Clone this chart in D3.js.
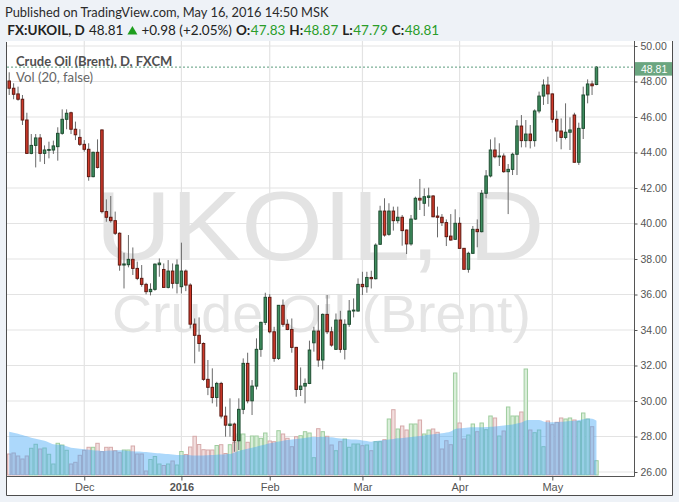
<!DOCTYPE html>
<html><head><meta charset="utf-8">
<script src="https://cdn.jsdelivr.net/npm/d3@7"></script>
<style>
html,body{margin:0;padding:0;background:#eef2f7;}
svg{display:block;}
</style></head>
<body>
<svg id="chart" width="679" height="502"></svg>
<script>
// ---------- data (daily bars, FXCM UKOIL) ----------
const opens=[48.03,47.62,47.30,47.00,45.83,43.95,44.40,44.82,43.95,44.12,
44.14,44.33,45.08,45.87,46.24,45.31,44.85,44.46,44.18,42.64,
44.01,45.27,40.67,40.35,40.16,39.45,37.66,37.68,37.98,37.47,
36.91,36.57,36.16,36.29,37.68,37.41,36.40,37.32,36.63,36.44,
37.32,36.53,34.33,33.70,33.24,31.22,30.77,30.20,30.99,29.15,
28.62,28.70,27.76,29.53,32.12,30.01,30.84,32.91,34.43,35.84,
33.90,32.40,35.39,34.32,34.03,33.02,30.65,30.84,30.99,33.28,
33.94,32.31,34.88,33.90,32.91,34.56,32.91,34.32,35.07,35.07,
36.57,36.44,36.96,36.89,38.83,40.70,39.39,40.70,40.16,40.35,
39.63,38.85,40.25,41.42,41.14,41.47,41.55,40.42,40.35,40.05,
39.29,39.11,40.01,38.60,37.42,38.32,39.67,39.54,41.70,42.68,
44.14,43.76,43.80,42.92,43.05,43.90,45.49,44.67,45.04,44.67,
46.34,47.18,47.80,47.30,45.87,45.21,44.85,45.14,46.11,43.45,
45.36,47.24,47.86,47.83];
const highs=[48.52,47.90,47.71,47.24,46.24,45.04,45.04,45.04,44.40,44.61,
44.67,45.42,46.43,46.43,46.30,45.74,45.31,44.70,44.52,44.05,
44.74,45.30,41.36,41.55,40.67,39.50,38.35,39.35,38.65,37.85,
37.66,36.66,36.63,37.75,38.03,37.75,37.94,37.75,37.98,38.92,
37.41,36.63,34.65,34.71,33.30,32.31,31.84,31.08,31.08,29.68,
30.15,28.78,30.15,32.40,32.72,31.18,33.53,34.47,36.10,36.02,
34.18,35.40,35.72,34.60,34.65,33.05,31.89,31.27,33.40,34.18,
35.40,34.93,35.97,34.18,34.93,35.08,34.60,35.69,35.78,36.91,
37.28,37.28,37.34,38.88,41.00,41.42,41.14,40.95,40.95,40.48,
39.66,40.48,41.51,42.51,41.98,42.02,41.60,40.95,40.53,40.23,
40.53,40.80,40.35,38.62,38.41,39.86,40.23,41.89,43.01,44.74,
44.85,44.52,43.95,43.35,43.99,45.83,46.11,45.83,45.55,46.43,
47.43,48.12,48.27,47.32,46.36,45.92,46.77,45.98,46.24,45.68,
47.71,48.12,48.05,48.87];
const lows=[47.24,47.00,46.92,45.55,43.92,43.90,43.16,43.48,43.35,43.67,
43.92,43.54,45.00,45.31,45.04,44.70,44.37,44.05,42.41,42.60,
43.10,40.57,40.10,40.05,39.35,37.34,36.34,37.53,37.10,36.81,
36.44,36.01,35.95,36.21,37.00,36.40,36.34,36.34,36.06,36.06,
36.19,34.09,32.12,32.78,31.14,30.33,29.87,29.68,29.02,27.99,
27.99,27.14,27.24,29.26,29.87,29.21,30.65,32.49,34.28,33.81,
32.21,32.31,34.18,33.99,32.72,30.24,30.28,29.87,30.95,32.78,
31.93,31.78,33.77,33.06,32.88,32.72,32.34,34.18,34.71,35.03,
35.97,36.10,36.34,36.85,38.79,39.26,39.31,39.60,40.01,38.75,
38.28,38.75,40.20,40.76,40.42,40.95,40.35,39.22,39.86,38.73,
39.03,39.07,38.60,37.42,37.23,38.28,38.66,39.50,41.42,42.60,
43.67,43.24,42.86,40.53,42.73,42.73,44.29,44.29,44.23,44.33,
46.21,46.68,46.73,45.68,44.61,44.18,44.74,44.14,43.45,43.30,
44.76,46.77,47.24,47.79];
const closes=[47.62,47.28,47.00,45.83,43.95,44.40,44.82,43.95,44.14,44.17,
44.37,45.08,45.87,46.21,45.31,45.00,44.46,44.18,42.64,44.01,
43.16,40.67,40.35,40.16,39.45,37.66,37.72,37.98,37.47,36.91,
36.57,36.16,36.29,37.71,37.77,36.40,37.32,36.63,37.66,37.32,
36.53,34.33,33.70,33.24,31.22,30.77,30.20,30.99,29.15,28.64,
28.70,27.76,29.53,32.12,30.01,30.84,32.91,34.43,35.84,33.90,
32.40,35.39,34.32,34.03,33.02,30.65,30.84,30.99,32.87,33.94,
32.31,34.88,33.90,33.15,34.56,32.91,34.32,35.07,35.12,36.57,
36.44,36.96,36.89,38.78,40.70,39.35,40.70,40.16,40.35,39.60,
38.85,40.25,41.42,41.32,41.51,41.55,40.38,40.35,40.05,39.26,
39.07,40.01,38.60,37.42,38.32,39.67,39.54,41.70,42.68,44.14,
43.76,43.80,42.92,43.05,43.90,45.49,44.67,45.04,44.67,46.34,
47.18,47.80,47.30,45.87,45.21,44.85,45.14,45.27,43.45,45.36,
47.24,47.86,47.76,48.81];
const volumes=[2100,2200,1900,1600,1900,2670,3070,2600,2700,2070,
1100,3170,3000,2470,1100,1270,1970,2470,2770,2770,
3170,2330,2770,2770,2430,2230,2500,2500,2900,2100,
2100,400,1550,1850,1100,950,1100,1400,1000,2350,
2050,2800,3870,3050,2530,2500,2500,2950,3030,2150,
3030,3250,4100,4100,3270,3900,3900,3670,4200,3400,
3330,4430,4100,3670,2830,3830,3930,4330,4200,1730,
4630,4330,3870,3000,2430,3330,3600,2770,3100,3100,
2930,3000,2430,3330,3330,3530,5600,6530,4600,4900,
4500,5100,5100,5500,4100,4500,4600,4270,2600,3430,
3030,10200,5200,3600,4000,5100,4330,5200,4530,5900,
5700,3900,4400,6800,5900,5900,6300,10600,4500,4230,
4500,2830,5400,5030,5270,5700,5600,5700,5500,5330,
6200,5600,4830,1430];
const volMA=[4330,4230,4130,4000,3870,3730,3630,3530,3430,3250,
3070,3030,3000,2870,2730,2670,2620,2570,2530,2480,
2440,2400,2420,2440,2460,2470,2440,2410,2380,2350,
2330,2290,2250,2210,2170,2130,2090,2050,2000,2000,
2000,1980,1950,1940,1960,1980,2000,2030,2050,2080,
2100,2250,2400,2530,2630,2730,2830,2940,3050,3170,
3250,3340,3430,3490,3550,3600,3660,3710,3770,3790,
3810,3830,3800,3770,3710,3660,3600,3580,3550,3530,
3460,3400,3330,3390,3440,3500,3560,3610,3670,3700,
3750,3810,3860,3910,3960,4020,4070,4120,4170,4240,
4350,4600,4670,4700,4760,4770,4770,4770,4800,4830,
4860,4900,4940,4990,5060,5150,5250,5450,5500,5500,
5500,5350,5270,5270,5290,5330,5360,5400,5430,5500,
5580,5650,5620,5430];
const priceTicks=[26,28,30,32,34,36,38,40,42,44,46,48,50];
const monthLabels=["Dec","2016","Feb","Mar","Apr","May"];
const monthIndex=[17,39,59,80,102,123];
const headerLine1=["Published on TradingView.com, May 16, 2016 14:50 MSK"];
const headerLine2=["FX:UKOIL, D","48.81","+0.98 (+2.05%)","O:","47.83","H:","48.87","L:","47.79","C:","48.81"];
const legendTexts=["Crude Oil (Brent), D, FXCM","Vol (20, false)"];
const watermarkTexts=["UKOIL, D","Crude Oil (Brent)"];
const lastPrice=48.81;

// ---------- setup ----------
const svg=d3.select("#chart");
const W=679,H=502;
const L=7,R=634,T=41,B=476;
const x=d3.scaleLinear().domain([-0.5,141.5]).range([L,R]);
const y=d3.scaleLinear().domain([26,50]).range([472,46]);
const v=d3.scaleLinear().domain([0,10000]).range([475,375]);
const idx=d3.range(opens.length);

function fit(sel,w){
  let n=sel.node().getComputedTextLength();
  if(n>w){
    const fs=parseFloat(sel.attr("font-size"));
    sel.attr("font-size",(fs*w/n*0.99).toFixed(2));
    n=sel.node().getComputedTextLength();
  }
  if(Math.abs(n-w)/w>0.015) sel.attr("textLength",w).attr("lengthAdjust","spacingAndGlyphs");
  return sel;
}

svg.append("rect").attr("width",W).attr("height",H).attr("fill","#eef2f7");
svg.append("rect").attr("x",L).attr("y",T).attr("width",672-L).attr("height",495-T).attr("fill","#ffffff");

svg.append("defs").append("clipPath").attr("id","plotclip")
  .append("rect").attr("x",L).attr("y",T).attr("width",R-L).attr("height",B-T);
const plot=svg.append("g").attr("clip-path","url(#plotclip)");

// watermark
fit(plot.append("text").attr("x",95.5).attr("y",260).attr("font-family","Liberation Sans, Arial, sans-serif")
  .attr("font-size",98).attr("fill","#e3e3e3").text(watermarkTexts[0]),449);
fit(plot.append("text").attr("x",112).attr("y",332).attr("font-family","Liberation Sans, Arial, sans-serif")
  .attr("font-size",51).attr("fill","#e5e5e5").text(watermarkTexts[1]),419);

// grid
plot.append("g").selectAll("line").data(priceTicks).join("line")
  .attr("x1",L).attr("x2",R).attr("y1",d=>y(d)).attr("y2",d=>y(d))
  .attr("stroke","#e3e3e3").attr("stroke-width",1.2);
plot.append("g").selectAll("line").data(monthIndex).join("line")
  .attr("x1",d=>x(d)).attr("x2",d=>x(d)).attr("y1",T).attr("y2",B)
  .attr("stroke","#e3e3e3").attr("stroke-width",1.2);

// volume bars
const up=i=>closes[i]>=opens[i];
const bw=x(1)-x(0);
plot.append("g").selectAll("rect").data(idx).join("rect")
  .attr("x",i=>x(i)-bw/2+0.5).attr("width",bw-1)
  .attr("y",i=>v(volumes[i])).attr("height",i=>v(0)-v(volumes[i]))
  .attr("fill",i=>up(i)?"#d9eed9":"#f2dede")
  .attr("stroke",i=>up(i)?"#9fcd9f":"#d6aaaa").attr("stroke-width",1);

// volume MA area
const area=d3.area().x(i=>x(i)).y0(v(0)).y1(i=>v(volMA[i])).curve(d3.curveMonotoneX);
plot.append("path").datum(idx).attr("d",area).attr("fill","rgba(70,168,246,0.45)");

// candles
const cg=plot.append("g");
cg.selectAll("line").data(idx).join("line")
  .attr("x1",i=>x(i)).attr("x2",i=>x(i)).attr("y1",i=>y(highs[i])).attr("y2",i=>y(lows[i]))
  .attr("stroke","#6a6a6a").attr("stroke-width",1);
cg.selectAll("rect").data(idx).join("rect")
  .attr("x",i=>x(i)-1.25).attr("width",2.5)
  .attr("y",i=>y(Math.max(opens[i],closes[i])))
  .attr("height",i=>Math.max(0.8,Math.abs(y(opens[i])-y(closes[i]))))
  .attr("fill",i=>up(i)?"#3f8f60":"#d0392a")
  .attr("stroke",i=>up(i)?"#1f4d31":"#5e1a12").attr("stroke-width",1);

// last price dashed line
plot.append("line").attr("x1",L).attr("x2",R).attr("y1",y(lastPrice)).attr("y2",y(lastPrice))
  .attr("stroke","#5b9c7c").attr("stroke-width",1).attr("stroke-dasharray","2,2");

// legend
fit(svg.append("text").attr("x",16).attr("y",65.5).attr("font-family","Lato, sans-serif").attr("font-weight","bold")
  .attr("font-size",14).attr("fill","#505050").text(legendTexts[0]),158);
fit(svg.append("text").attr("x",16).attr("y",82).attr("font-family","Lato, sans-serif")
  .attr("font-size",14).attr("fill","#666").text(legendTexts[1]),78);

// right axis
const ax=svg.append("g").attr("transform","translate(634.5,0)")
  .call(d3.axisRight(y).tickValues(priceTicks).tickFormat(d3.format(".2f")).tickSize(3).tickPadding(3));
ax.select(".domain").remove();
ax.selectAll("line").attr("stroke","#555");
ax.selectAll("text").attr("font-family","Liberation Sans, Arial, sans-serif").attr("font-size",10.5).attr("fill","#555");
svg.append("line").attr("x1",634.5).attr("x2",634.5).attr("y1",T).attr("y2",B+0.5).attr("stroke","#555");

// bottom axis
const bx=svg.append("g").attr("transform","translate(0,476.5)")
  .call(d3.axisBottom(x).tickValues(monthIndex).tickFormat((d,i)=>monthLabels[i]).tickSize(4).tickPadding(3));
bx.select(".domain").remove();
bx.selectAll("line").attr("stroke","#555");
bx.selectAll("text").attr("font-family","Liberation Sans, Arial, sans-serif").attr("font-size",11).attr("fill","#555")
  .attr("font-weight",(d,i)=>monthLabels[i]==="2016"?"bold":"normal");
svg.append("line").attr("x1",L).attr("x2",634.5).attr("y1",476.5).attr("y2",476.5).attr("stroke","#555");

// price label
const ly=y(lastPrice);
svg.append("rect").attr("x",635).attr("y",ly-5).attr("width",37).attr("height",13.5).attr("fill","#6ba680");
svg.append("text").attr("x",641).attr("y",ly+5.5).attr("font-family","Liberation Sans, Arial, sans-serif")
  .attr("font-size",10.5).attr("fill","#fff").text(d3.format(".2f")(lastPrice));

// frame
svg.append("path").attr("d","M6.5,42 V495.5 H672.5 V41").attr("fill","none").attr("stroke","#4d4d4d");

// header
fit(svg.append("text").attr("x",5).attr("y",16.5).attr("font-family","Lato, sans-serif").attr("font-size",14)
  .attr("fill","#2b2b2b").text(headerLine1[0]),327);
const h2=[
  {t:headerLine2[0],x:7.3,b:true,c:"#222"},
  {t:headerLine2[1],x:81.7,b:false,c:"#222"},
  {tri:true,x:119},
  {t:headerLine2[2],x:133.3,b:false,c:"#222"},
  {t:headerLine2[3],x:226,b:true,c:"#222"},
  {t:headerLine2[4],x:0,b:false,c:"#2a9d2a"},
  {t:headerLine2[5],x:276,b:true,c:"#222"},
  {t:headerLine2[6],x:0,b:false,c:"#2a9d2a"},
  {t:headerLine2[7],x:326,b:true,c:"#222"},
  {t:headerLine2[8],x:0,b:false,c:"#2a9d2a"},
  {t:headerLine2[9],x:377,b:true,c:"#222"},
  {t:headerLine2[10],x:0,b:false,c:"#2a9d2a"}
];
let prevEnd=0;
h2.forEach(s=>{
  if(s.tri){
    const tx=Math.max(s.x,prevEnd+4);
    svg.append("path").attr("d",`M${tx},34.5 L${tx+5},26 L${tx+10},34.5 Z`).attr("fill","#1e9e1e");
    prevEnd=tx+10;
    return;
  }
  const isValue=s.x===0;
  const xx=isValue?prevEnd+0.5:Math.max(s.x,prevEnd+4);
  const t=svg.append("text").attr("x",xx).attr("y",34.5).attr("font-family","Lato, sans-serif").attr("font-size",13.5)
    .attr("font-weight",s.b?"bold":"normal").attr("fill",s.c).text(s.t);
  prevEnd=xx+t.node().getComputedTextLength();
});
</script>
</body></html>
